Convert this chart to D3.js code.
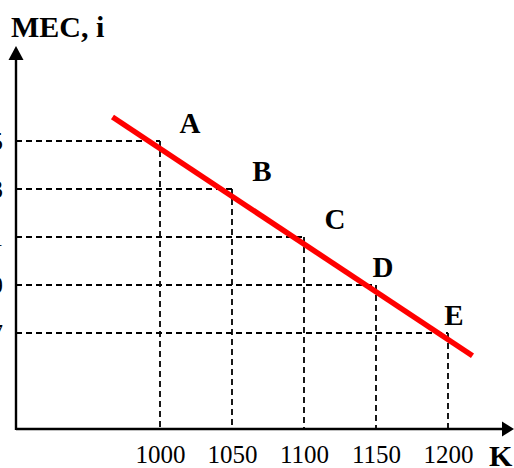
<!DOCTYPE html>
<html><head><meta charset="utf-8">
<script src="https://cdn.jsdelivr.net/npm/d3@7"></script>
<style>body{margin:0;background:#fff}svg{display:block}</style>
</head><body>
<svg id="c" width="514" height="468"></svg>
<script>
const capital = [1000, 1050, 1100, 1150, 1200];
const mecLevels = [15, 13, 11, 9, 7];
const pointLabels = ["A", "B", "C", "D", "E"];
const lineK = [967, 1217];
const lineMEC = [16, 6.05];
const yTitle = "MEC, i";
const xTitle = "K";

const svg = d3.select("#c");
const font = "'Liberation Serif','Times New Roman',serif";
const ox = 16, oy = 429;
const x = d3.scaleLinear().domain([1000, 1200]).range([160, 448]);
const y = d3.scaleLinear().domain([7, 15]).range([333, 141]);

// dashed guides
const g = svg.append("g").attr("stroke", "#000").attr("stroke-width", 1.8).attr("stroke-dasharray", "6,4").attr("fill", "none");
capital.forEach((k, i) => {
  g.append("line").attr("x1", ox).attr("x2", x(k)).attr("y1", y(mecLevels[i])).attr("y2", y(mecLevels[i]));
  g.append("line").attr("x1", x(k)).attr("x2", x(k)).attr("y1", y(mecLevels[i])).attr("y2", oy);
});

// axes lines with arrows
svg.append("line").attr("x1", ox).attr("y1", oy).attr("x2", 505).attr("y2", oy).attr("stroke", "#000").attr("stroke-width", 2.4);
svg.append("line").attr("x1", ox).attr("y1", oy + 1).attr("x2", ox).attr("y2", 56).attr("stroke", "#000").attr("stroke-width", 2.4);
svg.append("path").attr("d", `M514,${oy} L502,${oy - 7.5} L502,${oy + 7.5} Z`).attr("fill", "#000");
svg.append("path").attr("d", `M${ox},46 L${ox - 7.5},60 L${ox + 7.5},60 Z`).attr("fill", "#000");

// x tick labels via axis
const xa = svg.append("g").attr("transform", `translate(0,${oy})`)
  .call(d3.axisBottom(x).tickValues(capital).tickSize(0).tickPadding(16).tickFormat(d3.format("d")));
xa.select(".domain").remove();
xa.selectAll("text").attr("font-family", font).attr("font-size", 25).attr("fill", "#000");

// y tick labels via axis (mostly clipped at left edge)
const ya = svg.append("g").attr("transform", `translate(${ox},0)`)
  .call(d3.axisLeft(y).tickValues(mecLevels).tickSize(0).tickPadding(13).tickFormat(d3.format("d")));
ya.select(".domain").remove();
ya.selectAll("text").attr("font-family", font).attr("font-size", 25).attr("fill", "#000");

// MEC line
svg.append("line")
  .attr("x1", x(lineK[0])).attr("y1", y(lineMEC[0]))
  .attr("x2", x(lineK[1])).attr("y2", y(lineMEC[1]))
  .attr("stroke", "#ff0000").attr("stroke-width", 5.5);

// point labels
const lblOff = [[30, -8], [30, -8], [31, -8], [7, -8], [6, -8]];
capital.forEach((k, i) => {
  svg.append("text").attr("x", x(k) + lblOff[i][0]).attr("y", y(mecLevels[i]) + lblOff[i][1])
    .attr("text-anchor", "middle").attr("font-family", font).attr("font-weight", "bold")
    .attr("font-size", 29).attr("fill", "#000").text(pointLabels[i]);
});

// titles
svg.append("text").attr("x", 11).attr("y", 37).attr("font-family", font).attr("font-weight", "bold")
  .attr("font-size", 30).attr("fill", "#000").text(yTitle);
svg.append("text").attr("x", 489).attr("y", 466).attr("font-family", font).attr("font-weight", "bold")
  .attr("font-size", 30).attr("fill", "#000").text(xTitle);
</script>
</body></html>
